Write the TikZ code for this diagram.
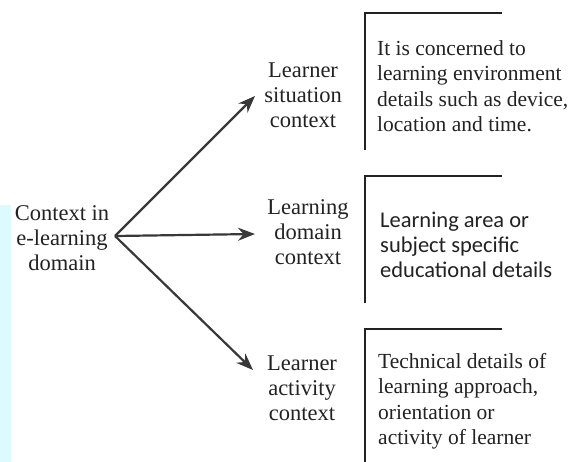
\documentclass[tikz,border=0pt]{standalone}
\usepackage{fontspec}
\setmainfont{Liberation Serif}
\newfontfamily\calib{Carlito}
\usetikzlibrary{arrows.meta}
\definecolor{stripcyan}{HTML}{DDFBFF}
\definecolor{ink}{HTML}{222222}
\begin{document}
\begin{tikzpicture}[x=1pt,y=-1pt,
  lbl/.style={align=center,font=\fontsize{22.5}{25}\selectfont,text=ink,inner sep=1pt},
  desc/.style={align=left,anchor=west,font=\fontsize{21.5}{25.5}\selectfont,text=ink,inner sep=0pt},
  descsans/.style={align=left,anchor=west,font=\calib\fontsize{22.5}{25}\selectfont,text=ink,inner sep=0pt},
  bracket/.style={draw=ink,line width=2.6pt},
  arr/.style={draw=ink!90,line width=2.2pt,-{Stealth[length=17pt,width=13pt]}}]
\useasboundingbox (0,0) rectangle (588,462);
\fill[stripcyan] (0,205) rectangle (11,462);
% left node
\node[lbl] (ctx) at (62,238) {Context in\\e-learning\\domain};
\coordinate (o) at (115,236);
% middle nodes
\node[lbl] (n1) at (303,95) {Learner\\situation\\context};
\node[lbl] (n2) at (308,232) {Learning\\domain\\context};
\node[lbl] (n3) at (302,388) {Learner\\activity\\context};
\coordinate (t1) at (255,96);
\coordinate (t2) at (255,234);
\coordinate (t3) at (253,370);
\draw[arr] (o) -- (t1);
\draw[arr] (o) -- (t2);
\draw[arr] (o) -- (t3);
% brackets
\draw[bracket] (365,150) -- (365,13) -- (502,13);
\draw[bracket] (365,303) -- (365,176) -- (502,176);
\draw[bracket] (365,462) -- (365,329) -- (502,329);
% descriptions
\node[desc] (d1) at (377,86) {It is concerned to\\learning environment\\details such as device,\\location and time.};
\node[descsans] (d2) at (380,245) {Learning area or\\subject specific\\educational details};
\node[desc] (d3) at (378,401) {Technical details of\\learning approach,\\orientation or\\activity of learner};
\end{tikzpicture}
\end{document}
